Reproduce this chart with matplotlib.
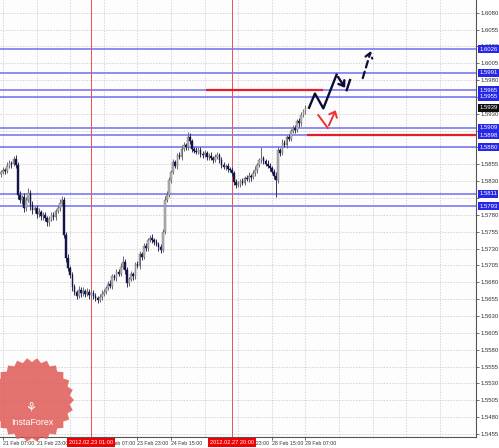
import numpy as np
import matplotlib
matplotlib.use('Agg')
import matplotlib.pyplot as plt
from matplotlib.patches import Polygon

plt.rcParams['font.family'] = ['Liberation Sans', 'DejaVu Sans']

# ---------------- data ----------------
first_open = 1.5840
closes = [
    1.5844, 1.5847, 1.5845, 1.5853, 1.5857, 1.5855, 1.5863, 1.5854, 1.5810, 1.5802,
    1.5806, 1.5790, 1.5802, 1.5813, 1.5795, 1.5787, 1.5790, 1.5781, 1.5785, 1.5778,
    1.5780, 1.5775, 1.5769, 1.5774, 1.5780, 1.5777, 1.5786, 1.5790, 1.5798, 1.5802,
    1.5750, 1.5716, 1.5701, 1.5691, 1.5673, 1.5665, 1.5660, 1.5669, 1.5664, 1.5667,
    1.5663, 1.5666, 1.5661, 1.5664, 1.5660, 1.5657, 1.5654, 1.5658, 1.5663, 1.5666,
    1.5672, 1.5678, 1.5675, 1.5689, 1.5686, 1.5695, 1.5693, 1.5702, 1.5710, 1.5698,
    1.5679, 1.5685, 1.5692, 1.5689, 1.5707, 1.5704, 1.5722, 1.5718, 1.5734, 1.5731,
    1.5743, 1.5746, 1.5743, 1.5740, 1.5737, 1.5732, 1.5728, 1.5755, 1.5802, 1.5810,
    1.5832, 1.5844, 1.5858, 1.5853, 1.5869, 1.5866, 1.5878, 1.5884, 1.5880, 1.5896,
    1.5889, 1.5878, 1.5875, 1.5874, 1.5877, 1.5871, 1.5869, 1.5872, 1.5866, 1.5868,
    1.5865, 1.5862, 1.5866, 1.5869, 1.5862, 1.5854, 1.5851, 1.5853, 1.5848, 1.5847,
    1.5842, 1.5829, 1.5824, 1.5826, 1.5830, 1.5828, 1.5835, 1.5833, 1.5838, 1.5836,
    1.5842, 1.5847, 1.5854, 1.5861, 1.5864, 1.5860, 1.5856, 1.5853, 1.5850, 1.5844,
    1.5838, 1.5832, 1.5876, 1.5872, 1.5887, 1.5884, 1.5896, 1.5893, 1.5904, 1.5909,
    1.5906, 1.5919, 1.5916, 1.5928, 1.5934, 1.5939,
]
upper_wick_pips = [
    3, 4, 3, 5, 4, 3, 4, 6, 4, 5,
    4, 6, 5, 7, 4, 5, 3, 4, 5, 3,
    4, 5, 3, 4, 5, 4, 3, 4, 5, 6,
    5, 4, 6, 3, 5, 4, 3, 5, 4, 6,
    3, 5, 4, 3, 5, 4, 3, 4, 5, 4,
    3, 4, 5, 4, 3, 5, 4, 6, 9, 5,
    4, 3, 5, 4, 3, 5, 4, 3, 4, 5,
    3, 4, 5, 3, 4, 3, 5, 4, 6, 5,
    4, 3, 5, 4, 3, 4, 5, 4, 3, 7,
    6, 4, 3, 5, 4, 3, 4, 5, 3, 4,
    5, 3, 4, 5, 3, 4, 5, 3, 4, 3,
    4, 3, 4, 5, 3, 4, 3, 4, 5, 3,
    4, 5, 3, 4, 16, 4, 3, 5, 4, 3,
    4, 5, 4, 3, 5, 4, 3, 4, 3, 5,
    4, 3, 5, 4, 3, 4,
]
lower_wick_pips = [
    4, 3, 5, 3, 4, 5, 3, 4, 6, 5,
    6, 5, 4, 3, 7, 5, 4, 6, 4, 5,
    5, 4, 6, 5, 3, 4, 5, 3, 4, 3,
    5, 6, 4, 5, 6, 4, 5, 3, 6, 4,
    5, 3, 6, 4, 5, 4, 5, 3, 4, 3,
    4, 3, 4, 5, 3, 4, 3, 4, 3, 5,
    6, 4, 3, 5, 4, 3, 4, 5, 3, 4,
    4, 3, 5, 4, 3, 5, 4, 3, 4, 3,
    4, 5, 3, 4, 5, 3, 4, 3, 4, 3,
    4, 5, 3, 4, 3, 5, 4, 3, 5, 4,
    3, 5, 4, 3, 5, 4, 3, 4, 5, 4,
    5, 4, 4, 3, 4, 3, 4, 3, 4, 5,
    3, 4, 5, 3, 4, 5, 3, 4, 5, 4,
    5, 26, 4, 5, 3, 4, 5, 3, 4, 3,
    4, 3, 5, 4, 3, 4,
]

price_tick_values = [1.6080, 1.6055, 1.6030, 1.6005, 1.5980, 1.5955, 1.5930, 1.5905,
                     1.5880, 1.5855, 1.5830, 1.5805, 1.5780, 1.5755, 1.5730, 1.5705,
                     1.5680, 1.5655, 1.5630, 1.5605, 1.5580, 1.5555, 1.5530, 1.5505,
                     1.5480, 1.5455]
# labels hidden behind level boxes in the reference are left blank
price_tick_labels = ["1.6080", "1.6055", "1.6030", "1.6005", "1.5980", "", "1.5930", "",
                     "", "1.5855", "1.5830", "", "1.5780", "1.5755", "1.5730", "1.5705",
                     "1.5680", "1.5655", "1.5630", "1.5605", "1.5580", "1.5555", "1.5530", "1.5505",
                     "1.5480", "1.5455"]

time_grid_bars = [1, 17, 33, 49, 65, 81, 97, 113, 129, 145, 161, 177, 193, 209]
time_tick_bars = [1, 17, 49, 65, 81, 113, 129, 145]
time_tick_labels = ["21 Feb 07:00", "21 Feb 23:00", "23 Feb 07:00",
                    "23 Feb 23:00", "24 Feb 15:00", "27 Feb 23:00",
                    "28 Feb 15:00", "29 Feb 07:00"]

blue_levels = [1.6026, 1.5991, 1.5965, 1.5955, 1.5909, 1.5898, 1.5880, 1.5811, 1.5793]
blue_level_labels = ["1.6026", "1.5991", "1.5965", "1.5955", "1.5909", "1.5898", "1.5880", "1.5811", "1.5793"]
current_price = 1.5939
current_price_label = "1.5939"

red_line_start_bars = [97.6, 145.7]
red_line_end_bars = [153.3, 226.5]
red_line_prices = [1.5965, 1.5898]

vline_bars = [43, 110]
vline_labels = ["2012.02.23 01:00", "2012.02.27 20:00"]

black_path_bars = [146.7, 149.5, 153.5, 159.8, 164.6]
black_path_prices = [1.5939, 1.5960, 1.5938, 1.5988, 1.5965]
black_tail_bars = [164.6, 166.2]
black_tail_prices = [1.5965, 1.5980]
dashed_arrow_bars = [171.9, 176.5]
dashed_arrow_prices = [1.5979, 1.6027]
red_path_bars = [151.1, 155.6, 159.9]
red_path_prices = [1.5928, 1.5909, 1.5939]

# ---------------- figure ----------------
W, H = 499, 448
fig = plt.figure(figsize=(W / 100, H / 100), dpi=100)
fig.patch.set_facecolor('white')
ax = fig.add_axes([0, 11 / H, 476 / W, 437 / H])
ax.set_facecolor('#fdfdfd')

n = len(closes)
opens = [first_open] + closes[:-1]
xs = np.arange(n)
pip = 0.0001
highs = [max(o, c) + u * pip for o, c, u in zip(opens, closes, upper_wick_pips)]
lows = [min(o, c) - l * pip for o, c, l in zip(opens, closes, lower_wick_pips)]

ax.set_xlim(-0.476, 226.2)
ax.set_ylim(1.54505, 1.60988)

# ticks / grid
ax.set_yticks(price_tick_values)
ax.set_yticklabels(price_tick_labels)
ax.set_xticks(time_tick_bars)
ax.set_xticklabels(time_tick_labels)
ax.yaxis.tick_right()
ax.tick_params(axis='y', labelsize=4.3, length=2, pad=1.2, colors='#333333', width=0.5)
ax.tick_params(axis='x', labelsize=3.8, length=2, pad=1.2, colors='#333333', width=0.5)
for lab in ax.get_xticklabels():
    lab.set_horizontalalignment('left')
ax.grid(True, axis='y', color='#c4c4c4', linestyle=(0, (2, 2)), linewidth=0.5)
for gb in time_grid_bars:
    ax.axvline(gb, color='#c4c4c4', linestyle=(0, (2, 2)), linewidth=0.5, zorder=0.5)
ax.set_axisbelow(True)
for s in ['top', 'left']:
    ax.spines[s].set_visible(False)
for s in ['right', 'bottom']:
    ax.spines[s].set_color('#555555')
    ax.spines[s].set_linewidth(0.8)

# blue horizontal levels
for lv in blue_levels:
    ax.axhline(lv, color='#6f6ff2', linewidth=1.1, zorder=2)

# vertical red lines
for vb in vline_bars:
    ax.axvline(vb, color='#f05050', linewidth=0.7, zorder=2)

# candles
up_face, up_edge = '#b5b5b5', '#6a6a6a'
dn_face = '#141446'
for i in range(n):
    o, c = opens[i], closes[i]
    bull = c >= o
    ax.vlines(xs[i], lows[i], highs[i], color='#6a6a6a' if bull else '#30305a', linewidth=0.7, zorder=3)
    h = max(abs(c - o), 0.00006)
    ax.bar(xs[i], h, bottom=min(o, c), width=0.8,
           color=up_face if bull else dn_face,
           edgecolor=up_edge if bull else dn_face, linewidth=0.3, zorder=4)

# red horizontal segments
for sb, eb, pr in zip(red_line_start_bars, red_line_end_bars, red_line_prices):
    ax.plot([sb, eb], [pr, pr], color='#e01f2a', linewidth=1.6, zorder=5, solid_capstyle='butt')

# projection drawings
ax.plot(black_path_bars[:-1], black_path_prices[:-1], color='#0d0d33', linewidth=1.7, zorder=6)
ax.annotate('', xy=(black_path_bars[-1], black_path_prices[-1]),
            xytext=(black_path_bars[-2], black_path_prices[-2]),
            arrowprops=dict(arrowstyle='->,head_length=0.35,head_width=0.25', color='#0d0d33', lw=1.7),
            zorder=6)
ax.plot(black_tail_bars, black_tail_prices, color='#0d0d33', linewidth=1.7, zorder=6)
ax.annotate('', xy=(dashed_arrow_bars[1], dashed_arrow_prices[1]),
            xytext=(dashed_arrow_bars[0], dashed_arrow_prices[0]),
            arrowprops=dict(arrowstyle='->,head_length=0.35,head_width=0.25', color='#0d0d33', lw=1.6,
                            linestyle=(0, (3, 2))), zorder=6)
ax.plot(red_path_bars[:-1], red_path_prices[:-1], color='#f03030', linewidth=1.4, zorder=6)
ax.annotate('', xy=(red_path_bars[-1], red_path_prices[-1]),
            xytext=(red_path_bars[-2], red_path_prices[-2]),
            arrowprops=dict(arrowstyle='->,head_length=0.35,head_width=0.3', color='#f03030', lw=1.4),
            zorder=6)

# right-side boxed labels
ytr = ax.get_yaxis_transform()
for lv, lab in zip(blue_levels, blue_level_labels):
    ax.text(1.0065, lv, lab, transform=ytr, fontsize=4.3, color='white', va='center', ha='left',
            bbox=dict(boxstyle='square,pad=0.25', fc='#2727e6', ec='none'), clip_on=False, zorder=10)
ax.text(1.0065, current_price, current_price_label, transform=ytr, fontsize=4.3, color='white',
        va='center', ha='left', bbox=dict(boxstyle='square,pad=0.25', fc='#101010', ec='none'),
        clip_on=False, zorder=11)

# bottom red time boxes
xtr = ax.get_xaxis_transform()
for vb, lab in zip(vline_bars, vline_labels):
    ax.text(vb, -0.0128, lab, transform=xtr, fontsize=4.1, color='white', va='center', ha='center',
            bbox=dict(boxstyle='square,pad=0.35', fc='#f00000', ec='none'), clip_on=False, zorder=11)

# InstaForex logo
cx, cy, ro, ri, teeth = 32, 400, 42, 38, 26
ang = np.linspace(0, 2 * np.pi, 2 * teeth, endpoint=False)
rad = np.where(np.arange(2 * teeth) % 2 == 0, ro, ri)
px = cx + rad * np.cos(ang)
py = cy + rad * np.sin(ang)
poly = Polygon(np.column_stack([px / W, 1 - py / H]), closed=True, transform=fig.transFigure,
               facecolor='#e05a56', edgecolor='none', alpha=0.85, zorder=20)
fig.patches.append(poly)
fig.text(32 / W, 1 - 422 / H, 'InstaForex', color='white', fontsize=6.4, ha='center', va='center',
         zorder=21)
fig.text(31 / W, 1 - 408 / H, '\u2698', color='white', fontsize=9, ha='center', va='center', zorder=21,
         family=['DejaVu Sans'])

fig.savefig('out.png', dpi=100)
